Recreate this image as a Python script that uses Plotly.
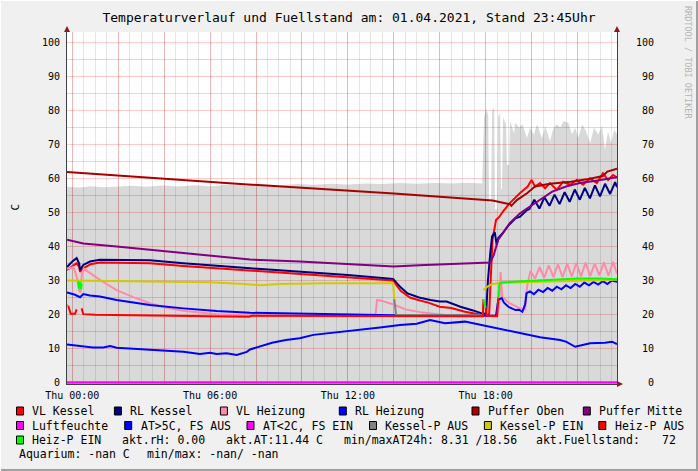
import plotly.graph_objects as go

# Zeit in Stunden ab Thu 00:00, Werte in C (Fuellstand in %)

FILL_H = [-0.23, 0.3, 0.8, 1.3, 2.0, 2.6, 3.2, 4.0, 4.6, 5.3, 6.0, 6.8, 7.5, 8.3, 9.0, 9.8,
          10.5, 11.3, 12.0, 12.8, 13.5, 14.3, 15.0, 15.8, 16.5, 17.2, 17.85,
          17.93, 18.02, 18.11, 18.15, 18.24, 18.28, 18.37, 18.41, 18.5, 18.54, 18.63, 18.67,
          18.71, 18.76, 18.89, 18.93, 19.02, 19.06, 19.19, 19.24, 19.28, 19.45, 19.6, 19.8,
          19.93, 20.1, 20.24, 20.45, 20.6, 20.8, 20.93, 21.1, 21.24, 21.4, 21.6, 21.76, 21.9,
          22.03, 22.2, 22.37, 22.55, 22.72, 22.9, 23.07, 23.2, 23.33, 23.46, 23.6, 23.72]
FILL_V = [57.6, 57.4, 57.8, 57.5, 57.7, 57.9, 57.6, 58.0, 57.7, 58.1, 57.8, 58.2, 58.0, 58.3,
          58.1, 58.4, 58.2, 58.5, 58.3, 58.6, 58.4, 58.7, 58.5, 58.7, 58.6, 58.8, 58.6,
          78.0, 80.5, 79.0, 53.0, 53.0, 80.0, 81.0, 51.0, 51.0, 78.0, 79.5, 57.0,
          57.0, 78.0, 76.0, 64.0, 64.0, 77.0, 74.0, 73.4, 76.5, 75.0, 76.0, 72.0,
          75.0, 73.0, 76.0, 72.0, 75.5, 71.0, 74.5, 76.0, 75.0, 77.0, 76.5, 73.0, 75.0,
          72.0, 76.0, 74.0, 70.5, 75.0, 73.0, 75.5, 68.5, 74.0, 70.5, 74.5, 73.0]

VLK_H = [-0.23, 0.0, 0.19, 0.3, 0.34, 0.48, 0.8, 1.2, 3.38, 4.84, 7.74, 10.0, 12.0, 13.97,
         14.3, 14.7, 15.1, 15.5, 16.0, 16.5, 17.1, 17.8, 18.15, 18.22, 18.3, 18.45, 18.6,
         18.75, 19.05, 19.5, 19.83, 20.0, 20.15, 20.37, 20.59, 20.8, 21.1, 21.37, 21.68,
         21.97, 22.24, 22.55, 22.84, 23.11, 23.33, 23.55, 23.72]
VLK_V = [33.1, 34.2, 35.1, 34.0, 32.6, 33.6, 34.8, 35.3, 35.1, 34.3, 32.9, 32.0, 31.0, 30.0,
         27.0, 25.0, 24.2, 23.5, 22.3, 21.9, 20.8, 19.9, 19.8, 32.0, 42.0, 47.8, 48.8,
         50.3, 52.8, 55.8, 57.7, 59.6, 57.7, 58.7, 57.2, 58.7, 56.7, 59.1, 58.2,
         59.6, 58.2, 60.1, 58.7, 61.6, 59.6, 61.1, 60.4]

RLK_H = [-0.23, 0.0, 0.19, 0.3, 0.34, 0.48, 0.77, 1.2, 3.38, 4.84, 7.74, 10.0, 12.0, 13.97,
         14.3, 14.6, 15.1, 15.6, 16.0, 16.3, 16.9, 17.45, 17.8, 18.02, 18.1, 18.2, 18.28,
         18.4, 18.48, 18.55, 18.75, 19.0, 19.3, 19.5, 19.8, 19.9, 20.12, 20.34, 20.56,
         20.78, 21.0, 21.22, 21.44, 21.66, 21.88, 22.1, 22.32, 22.54, 22.76, 22.98, 23.2,
         23.42, 23.64, 23.72]
RLK_V = [34.0, 35.6, 36.6, 35.0, 33.1, 34.6, 35.6, 36.1, 36.0, 35.1, 33.6, 32.6, 31.6, 30.5,
         28.0, 26.2, 25.0, 24.3, 23.8, 23.8, 22.3, 21.2, 20.4, 20.2, 30.0, 38.0, 43.0,
         44.2, 40.5, 42.5, 44.0, 46.3, 48.3, 48.8, 50.8, 51.0, 53.8, 51.2, 54.5,
         52.0, 55.3, 52.5, 56.0, 53.2, 56.8, 53.8, 57.3, 54.2, 58.0, 54.8, 58.5,
         55.5, 59.0, 57.5]

VLH_H = [-0.23, 0.05, 0.2, 0.3, 0.36, 0.42, 0.5, 0.8, 1.2, 1.93, 2.66, 3.38, 4.1, 4.84, 5.56,
         6.29, 7.74, 10.0, 13.2, 13.27, 13.5, 14.05, 14.5, 15.14, 16.0, 16.5, 18.5, 18.6,
         18.65, 18.72, 19.0, 19.5, 19.72, 19.8, 19.95, 20.15, 20.35, 20.55, 20.75, 20.95,
         21.15, 21.35, 21.55, 21.75, 21.95, 22.15, 22.35, 22.55, 22.75, 22.95, 23.15,
         23.35, 23.55, 23.72]
VLH_V = [33.5, 34.0, 31.0, 27.0, 26.5, 32.0, 33.5, 32.0, 30.2, 27.2, 25.1, 23.3, 22.0, 21.1,
         20.5, 20.1, 19.6, 19.5, 19.5, 24.3, 24.0, 22.8, 21.5, 20.7, 19.9, 19.6, 19.6, 24.0,
         32.5, 25.3, 23.5, 21.8, 21.5, 28.0, 32.8, 30.6, 34.0, 30.8, 34.5, 31.0,
         34.8, 31.0, 35.0, 31.2, 35.2, 31.2, 35.3, 31.3, 35.0, 31.5, 35.4,
         31.4, 35.5, 32.0]

RLH_H = [-0.23, 0.12, 0.34, 0.48, 0.77, 1.2, 1.93, 3.38, 4.84, 6.29, 7.74, 10.0, 12.0, 14.0,
         18.45, 18.55, 18.7, 18.8, 19.0, 19.3, 19.45, 19.6, 19.72, 19.78, 19.93, 20.1, 20.3,
         20.5, 20.7, 20.9, 21.1, 21.3, 21.5, 21.7, 21.9, 22.1, 22.3, 22.5, 22.7, 22.9,
         23.1, 23.3, 23.5, 23.72]
RLH_V = [26.5, 25.8, 25.1, 26.0, 25.6, 25.3, 24.3, 22.8, 21.8, 21.0, 20.5, 20.2, 19.9, 19.8,
         19.6, 24.3, 24.8, 23.5, 22.2, 21.3, 21.4, 20.8, 23.0, 26.3, 26.8, 26.0, 27.3,
         26.6, 27.8, 27.0, 28.2, 27.4, 28.6, 27.8, 29.0, 28.2, 29.4, 28.6, 29.6, 28.8,
         29.8, 29.0, 30.0, 29.6]

POBEN_H = [-0.23, 7.0, 14.0, 18.3, 19.06, 19.12, 19.36, 19.8, 20.15, 20.8, 21.7, 22.4, 23.1,
           23.3, 23.72]
POBEN_V = [62.0, 58.6, 55.6, 53.6, 52.5, 52.0, 53.7, 55.7, 57.7, 58.5, 59.1, 59.8, 60.8,
           62.1, 62.9]

PMITTE_H = [-0.23, 0.48, 1.93, 3.38, 4.84, 6.29, 7.74, 9.9, 12.5, 14.0, 15.1, 16.5, 18.2,
            18.35, 18.55, 19.06, 19.5, 19.93, 20.37, 20.9, 21.5, 22.1, 22.8, 23.72]
PMITTE_V = [42.0, 40.9, 40.0, 39.0, 38.0, 37.0, 36.2, 35.6, 34.7, 34.1, 34.5, 34.9, 35.3,
            37.5, 42.0, 47.0, 49.8, 51.8, 53.7, 56.2, 57.7, 58.7, 59.4, 60.4]

AT_H = [-0.23, 0.48, 0.9, 1.35, 1.65, 1.93, 2.66, 3.38, 4.1, 4.84, 5.56, 6.0, 6.29, 6.72,
        7.16, 7.6, 7.74, 8.2, 8.7, 9.3, 9.9, 10.5, 11.1, 11.7, 12.5, 13.4, 14.27, 15.0,
        15.58, 16.23, 17.1, 17.97, 19.06, 20.37, 21.24, 21.5, 21.9, 22.2, 22.55, 23.2,
        23.5, 23.72]
AT_V = [11.2, 10.7, 10.3, 10.3, 10.7, 10.2, 9.9, 9.5, 9.3, 9.0, 8.4, 8.7, 8.4, 8.6,
        8.1, 9.0, 9.7, 10.7, 11.7, 12.5, 13.0, 14.0, 14.5, 15.0, 15.6, 16.2, 16.9, 17.3,
        18.4, 17.4, 17.9, 16.7, 15.2, 13.3, 12.5, 12.0, 10.5, 11.0, 11.5, 11.7,
        12.0, 11.3]

KP_EIN_H = [-0.23, 2.0, 4.0, 6.0, 7.5, 8.2, 9.0, 11.0, 13.97, 14.02, None,
            17.9, 18.1, 18.3, 18.6, 20.0, 22.0, 23.72]
KP_EIN_V = [30.0, 29.8, 29.7, 29.5, 29.0, 28.6, 29.0, 29.2, 29.2, 24.5, None,
            27.2, 28.3, 29.0, 29.3, 29.6, 30.0, 30.2]
KP_AUS_H = [14.02, 14.1, 16.0, 17.88]
KP_AUS_V = [24.5, 19.9, 19.8, 19.8]

HP_AUS_H = [-0.17, -0.07, 0.12, 0.19, None, 0.41, 0.48, 1.0, 5.0, 7.7, 7.8, 13.97, 17.88,
            17.9, None, 18.0, 18.05, 18.5, 18.55]
HP_AUS_V = [22.5, 20.2, 20.2, 21.5, None, 21.8, 20.1, 19.9, 19.5, 19.3, 19.6, 19.6, 19.5,
            24.5, None, 22.0, 19.6, 19.5, 25.0]
HP_EIN_H = [-0.23, -0.17, None, 0.26, 0.3, 0.34, 0.38, 0.41, None, 17.9, 17.95, 18.0, None,
            18.55, 18.6, 18.75, 19.0, 19.5, 20.0, 21.0, 22.0, 23.0, 23.72]
HP_EIN_V = [22.8, 22.5, None, 29.8, 27.6, 29.6, 27.5, 29.0, None, 24.5, 23.5, 22.0, None,
            25.0, 29.0, 29.5, 29.6, 29.8, 30.0, 30.3, 30.6, 30.6, 30.4]

LUFT_H = [-0.23, 23.72]
LUFT_V = [0.0, 0.0]

X_MAJOR = list(range(0, 24, 2))
X_LABELS = {0: "Thu 00:00", 6: "Thu 06:00", 12: "Thu 12:00", 18: "Thu 18:00"}
Y_TICKS = list(range(0, 101, 5))

TITLE = "Temperaturverlauf und Fuellstand am: 01.04.2021, Stand 23:45Uhr"
MONO = "DejaVu Sans Mono"

# Plotbereich in Pixeln (fuer Legende/Rahmen)
L, R, T, B = 67, 617, 32, 384


def px(x):
    return (x - L) / (R - L)


def py(y):
    return (B - y) / (B - T)


fig = go.Figure()


def add_line(hours, values, color, width=2, yaxis="y"):
    fig.add_scatter(x=hours, y=values, mode="lines", line=dict(color=color, width=width),
                    yaxis=yaxis, hoverinfo="skip", connectgaps=False)


fig.add_scatter(x=FILL_H, y=FILL_V, mode="lines", fill="tozeroy",
                fillcolor="rgba(0,0,0,0.15)", line=dict(width=0), hoverinfo="skip")
add_line(VLK_H, VLK_V, "#FF0000")
add_line(RLK_H, RLK_V, "#000080")
add_line(VLH_H, VLH_V, "#FF8AA8")
add_line(RLH_H, RLH_V, "#0000FF")
add_line(POBEN_H, POBEN_V, "#A80000")
add_line(PMITTE_H, PMITTE_V, "#800080")
add_line(AT_H, AT_V, "#0000FF")
add_line(KP_AUS_H, KP_AUS_V, "#808080")
add_line(KP_EIN_H, KP_EIN_V, "#CCCC00")
add_line(HP_AUS_H, HP_AUS_V, "#FF0000")
add_line(HP_EIN_H, HP_EIN_V, "#00FF00")
add_line(LUFT_H, LUFT_V, "#FF00FF", width=2.5, yaxis="y2")

yrange = [-0.47, 103.2]
left_text = [str(v) if v % 10 == 0 else "" for v in Y_TICKS]
right_text = [str(v).rjust(3, "\u00a0") if v % 10 == 0 else "" for v in Y_TICKS]

fig.update_layout(
    width=698, height=471,
    margin=dict(l=L, r=698 - R, t=T, b=471 - B),
    paper_bgcolor="#F0F0F0", plot_bgcolor="#FFFFFF",
    showlegend=False,
    font=dict(family=MONO, size=10, color="#000000"),
    title=dict(text=TITLE, x=0.5, xanchor="center", y=1 - 17 / 471, yanchor="middle",
               font=dict(family=MONO, size=13, color="#000000")),
    xaxis=dict(range=[-0.23, 23.72], tickmode="array", tickvals=X_MAJOR,
               ticktext=[X_LABELS.get(v, "") for v in X_MAJOR],
               showgrid=True, gridcolor="rgba(255,0,0,0.2)", gridwidth=1,
               minor=dict(dtick=0.5, tick0=0, showgrid=True, gridcolor="rgba(0,0,0,0.1)"),
               showline=True, linecolor="#404040", linewidth=1, zeroline=False,
               ticks="", ticklabelstandoff=2, fixedrange=True),
    yaxis=dict(range=yrange, tickmode="array", tickvals=Y_TICKS, ticktext=left_text,
               showgrid=True, gridcolor="rgba(255,0,0,0.2)", gridwidth=1,
               showline=True, linecolor="#404040", linewidth=1, zeroline=False,
               ticks="", ticklabelstandoff=4, fixedrange=True),
    yaxis2=dict(range=yrange, overlaying="y", side="right", tickmode="array",
                tickvals=Y_TICKS, ticktext=right_text, showgrid=False, zeroline=False,
                showline=True, linecolor="#404040", linewidth=1,
                ticks="", ticklabelstandoff=16, fixedrange=True),
)

shapes = []
annotations = []

# Pfeile an den Achsenenden
for xa in (0, 1):
    shapes.append(dict(type="path", xref="paper", yref="paper", xsizemode="pixel",
                       ysizemode="pixel", xanchor=xa, yanchor=1, path="M-3,0 L3,0 L0,6 Z",
                       fillcolor="#8B1A1A", line=dict(width=0)))
shapes.append(dict(type="path", xref="paper", yref="paper", xsizemode="pixel",
                   ysizemode="pixel", xanchor=1, yanchor=0, path="M0,-3 L0,3 L6,0 Z",
                   fillcolor="#8B1A1A", line=dict(width=0)))

# Rahmen
shapes.append(dict(type="line", xref="paper", yref="paper", x0=px(697), x1=px(697),
                   y0=py(0), y1=py(471), line=dict(color="#A0A0A0", width=2)))
shapes.append(dict(type="line", xref="paper", yref="paper", x0=px(0), x1=px(698),
                   y0=py(470), y1=py(470), line=dict(color="#A0A0A0", width=2)))
shapes.append(dict(type="line", xref="paper", yref="paper", x0=px(0.5), x1=px(0.5),
                   y0=py(0), y1=py(471), line=dict(color="#FFFFFF", width=1)))
shapes.append(dict(type="line", xref="paper", yref="paper", x0=px(0), x1=px(698),
                   y0=py(0.5), y1=py(0.5), line=dict(color="#FFFFFF", width=1)))

LEGEND = [
    (411, [("VL Kessel", "#FF0000", 16.5), ("RL Kessel", "#000080", 114.4),
           ("VL Heizung", "#FF8AA8", 220.4), ("RL Heizung", "#0000FF", 339.3),
           ("Puffer Oben", "#A80000", 472.0), ("Puffer Mitte", "#800080", 583.3)]),
    (425.5, [("Luftfeuchte", "#FF00FF", 16.5), ("AT>5C, FS AUS", "#0000FF", 124.7),
             ("AT<2C, FS EIN", "#FF00FF", 247.0), ("Kessel-P AUS", "#808080", 369.5),
             ("Kessel-P EIN", "#CCCC00", 484.4), ("Heiz-P AUS", "#FF0000", 598.8)]),
    (440, [("Heiz-P EIN", "#00FF00", 16.5)]),
]
INFO = [
    (440, "akt.rH: 0.00", 120.2), (440, "akt.AT:11.44 C", 224.0),
    (440, "min/maxAT24h: 8.31 /18.56", 342.0), (440, "akt.Fuellstand:", 534.3),
    (440, "72", 660.3), (454, "Aquarium: -nan C", 16.5), (454, "min/max: -nan/ -nan", 144.7),
]

for row_y, items in LEGEND:
    for label, color, bx in items:
        shapes.append(dict(type="rect", xref="paper", yref="paper",
                           x0=px(bx), x1=px(bx + 7), y0=py(row_y + 4), y1=py(row_y - 4),
                           fillcolor=color, line=dict(color="#000000", width=1)))
        annotations.append(dict(text=label, xref="paper", yref="paper", x=px(bx + 13.8),
                                y=py(row_y), xanchor="left", yanchor="middle",
                                showarrow=False, font=dict(family=MONO, size=11.5)))
for row_y, text, tx in INFO:
    annotations.append(dict(text=text, xref="paper", yref="paper", x=px(tx), y=py(row_y),
                            xanchor="left", yanchor="middle", showarrow=False,
                            font=dict(family=MONO, size=11.5)))

annotations.append(dict(text="C", xref="paper", yref="paper", x=px(14.5), y=py(207),
                        xanchor="center", yanchor="middle",
                        textangle=-90, showarrow=False, font=dict(family=MONO, size=11)))
annotations.append(dict(text="RRDTOOL / TOBI OETIKER", xref="paper", yref="paper",
                        x=px(688), y=py(62), xanchor="center", yanchor="middle",
                        textangle=90, showarrow=False,
                        font=dict(family=MONO, size=8.5, color="#B4B4B4")))

fig.update_layout(shapes=shapes, annotations=annotations)
# Seitenrand des Browsers entfernen, damit die Grafik bei (0,0) beginnt
fig.write_html("out.html", config={"displayModeBar": False},
               post_script="document.body.style.margin='0';")
